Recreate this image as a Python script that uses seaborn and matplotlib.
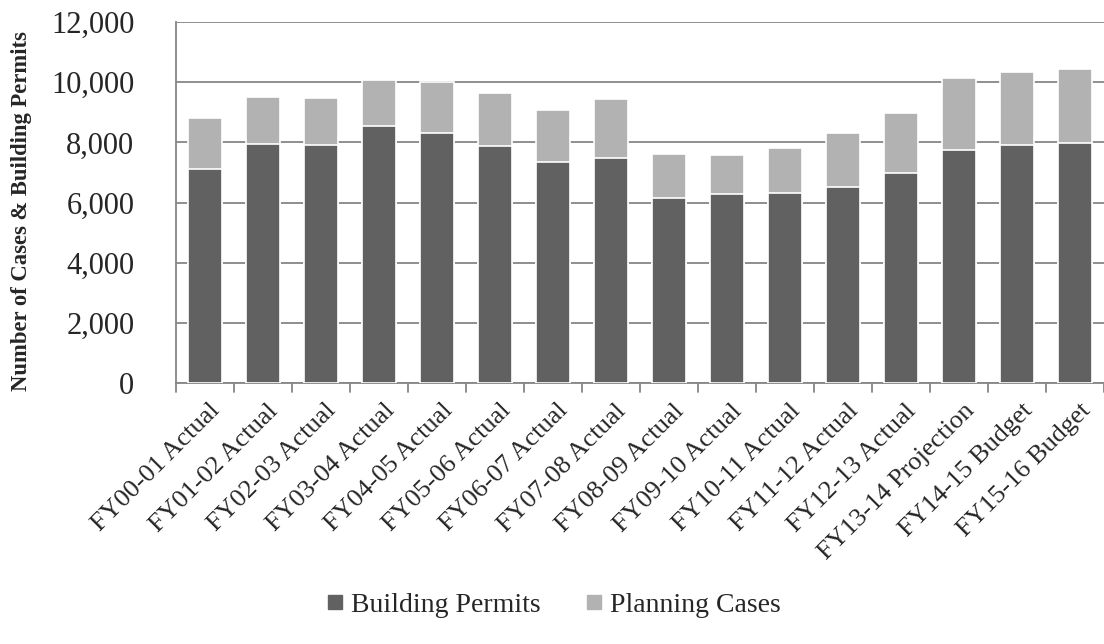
import pandas as pd
import matplotlib.pyplot as plt
import seaborn as sns
from matplotlib.lines import Line2D
from matplotlib.transforms import ScaledTranslation

years = ['FY00-01 Actual', 'FY01-02 Actual', 'FY02-03 Actual', 'FY03-04 Actual',
         'FY04-05 Actual', 'FY05-06 Actual', 'FY06-07 Actual', 'FY07-08 Actual',
         'FY08-09 Actual', 'FY09-10 Actual', 'FY10-11 Actual', 'FY11-12 Actual',
         'FY12-13 Actual', 'FY13-14 Projection', 'FY14-15 Budget', 'FY15-16 Budget']
building_permits = [7100, 7940, 7900, 8550, 8320, 7870, 7330, 7490,
                    6140, 6270, 6300, 6510, 6990, 7760, 7910, 7970]
planning_cases = [1700, 1570, 1570, 1530, 1670, 1760, 1730, 1940,
                  1470, 1320, 1510, 1810, 1970, 2370, 2440, 2480]

dark = '#616161'
light = '#b2b2b2'
grid = '#868686'

df = pd.DataFrame({'year': years, 'bp': building_permits, 'pc': planning_cases})
df['total'] = df['bp'] + df['pc']

sns.set_style('white')
plt.rcParams['font.family'] = ['Liberation Serif', 'DejaVu Serif']

fig = plt.figure(figsize=(11.04, 6.44), dpi=100)
ax = fig.add_axes([0.1594, 0.4053, 0.8406, 0.5605])

# stacked: total in light, building permits drawn over it
sns.barplot(data=df, x='year', y='total', color=light, width=0.59,
            edgecolor='white', linewidth=1.2, saturation=1, ax=ax, zorder=3)
sns.barplot(data=df, x='year', y='bp', color=dark, width=0.59,
            edgecolor='white', linewidth=1.2, saturation=1, ax=ax, zorder=4)

ax.set_ylim(0, 12000)
ax.set_xlim(-0.5, len(years) - 0.5)
ax.set_yticks(range(0, 12001, 2000))
ax.set_yticklabels([f'{v:,}' for v in range(0, 12001, 2000)], fontsize=22)
ax.yaxis.grid(True, color=grid, linewidth=1.3, zorder=0)
ax.set_axisbelow(True)

ax.set_xticks(range(len(years)))
ax.set_xticklabels(years, rotation=45, ha='right', va='top',
                   rotation_mode='anchor', fontsize=19)
ax.tick_params(axis='x', length=0, pad=12)
shift = ScaledTranslation(3 / 72, 0, fig.dpi_scale_trans)
for lab in ax.get_xticklabels():
    lab.set_transform(lab.get_transform() + shift)
# boundary tick marks between categories
for i in range(len(years) + 1):
    ax.plot([i - 0.5, i - 0.5], [0, -300], color=grid, lw=1.3, clip_on=False)
ax.tick_params(axis='y', length=8, color=grid, width=1.3, pad=22)

for s in ['top', 'right']:
    ax.spines[s].set_visible(False)
ax.spines['left'].set_color(grid)
ax.spines['left'].set_linewidth(1.3)
ax.spines['bottom'].set_color(grid)
ax.spines['bottom'].set_linewidth(1.3)

ax.set_xlabel('')
ax.set_ylabel('Number of Cases & Building Permits', fontsize=16.3, fontweight='bold')
ax.yaxis.set_label_coords(-0.155, 0.475)

handles = [Line2D([], [], marker='s', ls='', color=dark, markersize=9.5),
           Line2D([], [], marker='s', ls='', color=light, markersize=9.5)]
fig.legend(handles, ['Building Permits', 'Planning Cases'], loc='center',
           bbox_to_anchor=(0.499, 0.06), ncol=2, frameon=False, fontsize=20,
           handletextpad=0.1, columnspacing=1.4, handlelength=1.0)

fig.savefig('out.png', dpi=100)
